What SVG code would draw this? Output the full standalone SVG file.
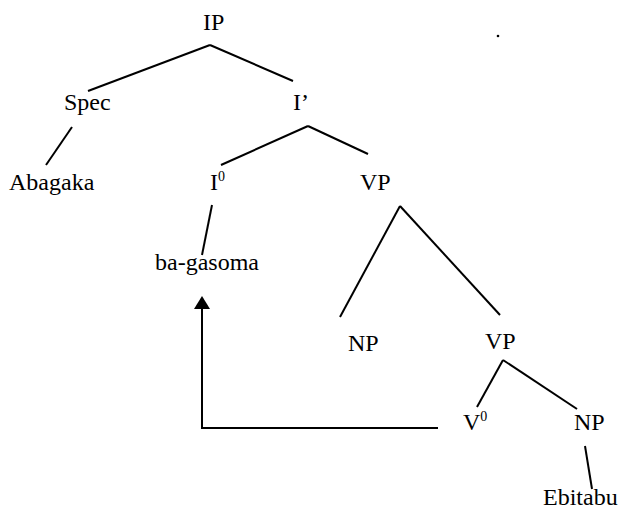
<svg xmlns="http://www.w3.org/2000/svg" width="619" height="511" viewBox="0 0 619 511">
<defs>
<style>
text{font-family:"Liberation Serif","Times New Roman",serif;font-size:24px;fill:#000}
.sup{font-size:14px}
.e{stroke:#000;stroke-width:2;fill:none}
</style>
</defs>
<rect width="619" height="511" fill="#fff"/>
<g id="connectors">
<line class="e" x1="210" y1="45" x2="88" y2="91"/>
<line class="e" x1="210" y1="45" x2="293" y2="81"/>
<line class="e" x1="72" y1="127" x2="46" y2="165"/>
<line class="e" x1="308" y1="126" x2="221" y2="165"/>
<line class="e" x1="308" y1="126" x2="368" y2="154"/>
<line class="e" x1="212" y1="205" x2="202" y2="255"/>
<line class="e" x1="400" y1="206" x2="340" y2="317"/>
<line class="e" x1="400" y1="206" x2="500" y2="315"/>
<line class="e" x1="503" y1="360" x2="477" y2="407"/>
<line class="e" x1="503" y1="360" x2="577" y2="409"/>
<line class="e" x1="585" y1="446" x2="592" y2="489"/>
<polyline class="e" points="438,428 202,428 202,309"/>
<path d="M194,309 L202,296 L210,309 Z" fill="#000"/>
</g>
<g id="IP"><text x="203" y="30">IP</text></g>
<g id="Spec"><text x="64" y="110">Spec</text></g>
<g id="Ibar"><text x="293" y="110">I’</text></g>
<g id="Abagaka"><text x="9" y="190">Abagaka</text></g>
<g id="I0"><text x="210" y="190">I<tspan class="sup" dy="-9">0</tspan></text></g>
<g id="VP1"><text x="360" y="190">VP</text></g>
<g id="bagasoma"><text x="155" y="270">ba-gasoma</text></g>
<g id="NP1"><text x="348" y="351">NP</text></g>
<g id="VP2"><text x="485" y="349">VP</text></g>
<g id="V0"><text x="463" y="430">V<tspan class="sup" dy="-9">0</tspan></text></g>
<g id="NP2"><text x="574" y="430">NP</text></g>
<g id="Ebitabu"><text x="543" y="505">Ebitabu</text></g>
<circle cx="498" cy="36" r="1.3" fill="#000"/>
</svg>
